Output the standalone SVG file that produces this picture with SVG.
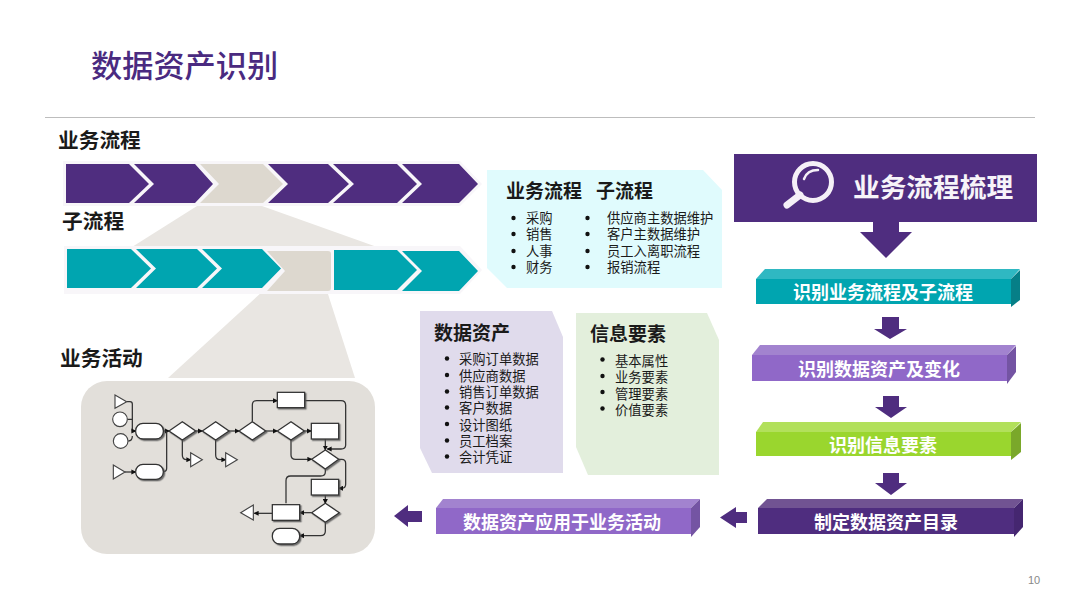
<svg xmlns="http://www.w3.org/2000/svg" width="1080" height="608" viewBox="0 0 1080 608">
<style>
text{font-family:"Noto Sans CJK SC","Noto Sans",sans-serif;fill:#1a1a1a}
.title{font-size:31.2px;font-weight:500;fill:#4a2a80}
.lab{font-size:20.7px;font-weight:700}
.head{font-size:19px;font-weight:700}
.li{font-size:13.3px;font-weight:400}
.btn{font-size:18px;font-weight:700;fill:#fff;text-anchor:middle}
.pur{fill:#4f2d7f}.teal{fill:#00a5b0}.beige{fill:#ddd8cf}.funnel{fill:#e9e6e2}.halo{fill:#f8f6f9}
.dot{fill:#111}
.fn{fill:#fff;stroke:#333;stroke-width:3.8;filter:url(#sh)}
.ft{fill:#fff;stroke:#444;stroke-width:3.4}
.cn{fill:none;stroke:#333;stroke-width:3.8;stroke-linejoin:round}
.ca{marker-end:url(#ah)}
</style>
<defs>
<filter id="sh" x="-20%" y="-20%" width="150%" height="150%"><feDropShadow dx="4" dy="4" stdDeviation="2" flood-color="#555" flood-opacity="0.8"/></filter>
<marker id="ah" markerWidth="4" markerHeight="4" refX="3.4" refY="2" orient="auto" markerUnits="strokeWidth"><path d="M0,0L4,2L0,4Z" fill="#111"/></marker>
</defs>
<rect width="1080" height="608" fill="#fff"/>
<text class="title" x="91" y="77">数据资产识别</text>
<line x1="45" y1="117.5" x2="1035" y2="117.5" stroke="#bdbdbd" stroke-width="1"/>
<text class="lab" x="58" y="148">业务流程</text>
<text class="lab" x="62" y="229">子流程</text>
<text class="lab" x="60" y="366">业务活动</text>

<g id="funnels">
<polygon class="funnel" points="197,206 262,206 377,247 132,247"/>
<polygon class="funnel" points="263,291 327,291 355,378 168,378"/>
</g>

<g id="process-row">
<polygon class="halo" points="63,161 460,161 482,184 460,206 63,206"/>
<polygon class="pur" points="66,164 129,164 149,184 129,203 66,203"/>
<polygon class="pur" points="134,164 195,164 213,184 195,203 134,203 154,184"/>
<polygon class="beige" points="200,164 263,164 283,184 263,203 200,203 219,184"/>
<polygon class="pur" points="268,164 328,164 349,184 328,203 268,203 288,184"/>
<polygon class="pur" points="333,164 397,164 417,184 397,203 333,203 354,184"/>
<polygon class="pur" points="402,164 459,164 478,184 459,203 402,203 422,184"/>
</g>
<g id="subprocess-row">
<polygon class="halo" points="64,246 460,246 482,270 460,294 64,294"/>
<polygon class="teal" points="67,249 131,249 151,268.500 131,288 67,288"/>
<polygon class="teal" points="136,249 197,249 217,268.500 197,288 136,288 156,268.500"/>
<polygon class="teal" points="202,249 262,249 281,268.500 262,288 202,288 222,268.500"/>
<path class="beige" d="M267,251H328Q331,251 331,254V288Q331,291 328,291H267L285,271Z"/>
<polygon class="teal" points="334,250 397,250 417,270 397,290 334,290"/>
<polygon class="teal" points="402,251 459,251 478,271 459,291 402,291 422,271"/>
</g>

<g id="activity-panel">
<rect x="81" y="381" width="294" height="173" rx="26" fill="#e2dfda"/>
</g>
<g id="flowchart" transform="translate(70 370) scale(0.33333)">
<g id="flow-connectors">
<path class="cn ca" d="M170,95H180Q187,95 187,102V183H197"/>
<path class="cn" d="M172,148H187M175,213Q187,213 187,198"/>
<path class="cn ca" d="M165,306H197"/>
<path class="cn ca" d="M280,183H297"/>
<path class="cn" d="M280,305Q290,305 290,295V183"/>
<path class="cn ca" d="M377,183H397"/>
<path class="cn ca" d="M477,183H507"/>
<path class="cn ca" d="M587,183H622"/>
<path class="cn ca" d="M703,183H724"/>
<path class="cn ca" d="M547,155V105Q547,92 560,92H622"/>
<path class="cn ca" d="M704,92H813Q827,92 827,106V225Q827,237 813,237H772"/>
<path class="cn ca" d="M766,207V240"/>
<path class="cn ca" d="M663,210V255Q663,268 677,268H725"/>
<path class="cn ca" d="M806,268H815Q827,268 827,280V343Q827,355 815,355H806"/>
<path class="cn" d="M766,297V306Q766,318 752,318H662Q648,318 648,332V400"/>
<path class="cn ca" d="M766,375V400"/>
<path class="cn ca" d="M725,428H689"/>
<path class="cn ca" d="M607,430H553"/>
<path class="cn ca" d="M766,457V484Q766,497 752,497H689"/>
<path class="cn ca" d="M337,210V255Q337,269 350,269H362"/>
<path class="cn ca" d="M437,210V255Q437,269 450,269H467"/>
</g>
<g id="t1"><polygon class="ft" points="135,75 135,115 170,95"/></g>
<g id="c1"><circle class="ft" cx="150" cy="148" r="22"/></g>
<g id="c2"><circle class="ft" cx="152" cy="213" r="22"/></g>
<g id="t2"><polygon class="ft" points="130,285 130,327 165,306"/></g>
<g id="t3"><polygon class="ft" points="362,248 362,290 397,269"/></g>
<g id="t4"><polygon class="ft" points="467,248 467,290 502,269"/></g>
<g id="t5"><polygon class="ft" points="550,405 550,450 512,428"/></g>
<g id="r1"><rect class="fn" x="197" y="160" width="83" height="47" rx="22"/></g>
<g id="r2"><rect class="fn" x="197" y="283" width="83" height="45" rx="22"/></g>
<g id="r3"><rect class="fn" x="607" y="475" width="82" height="47" rx="22"/></g>
<g id="d1"><polygon class="fn" points="297,183 337,155 377,183 337,210"/></g>
<g id="d2"><polygon class="fn" points="397,183 437,155 477,183 437,210"/></g>
<g id="d3"><polygon class="fn" points="507,183 547,155 587,183 547,210"/></g>
<g id="d4"><polygon class="fn" points="622,183 663,155 703,183 663,210"/></g>
<g id="d5"><polygon class="fn" points="725,268 766,240 806,268 766,297"/></g>
<g id="d6"><polygon class="fn" points="725,428 766,400 808,428 766,457"/></g>
<g id="a1"><rect class="fn" x="622" y="67" width="82" height="46"/></g>
<g id="a2"><rect class="fn" x="724" y="160" width="82" height="47"/></g>
<g id="a3"><rect class="fn" x="724" y="328" width="82" height="47"/></g>
<g id="a4"><rect class="fn" x="607" y="404" width="82" height="47"/></g>
</g>

<g id="panel-process">
<polygon points="487,170 703,170 722,190 722,288 507,288 487,268" fill="#e0fbfd"/>
<text class="head" x="506" y="198">业务流程</text><text class="head" x="596" y="198">子流程</text>
<g class="dot"><circle cx="513.500" cy="218" r="2.200"/><circle cx="513.500" cy="234" r="2.200"/><circle cx="513.500" cy="251" r="2.200"/><circle cx="513.500" cy="267" r="2.200"/><circle cx="587.500" cy="218" r="2.200"/><circle cx="587.500" cy="234" r="2.200"/><circle cx="587.500" cy="251" r="2.200"/><circle cx="587.500" cy="267" r="2.200"/></g>
<text class="li" x="526" y="223">采购</text><text class="li" x="526" y="239">销售</text><text class="li" x="526" y="256">人事</text><text class="li" x="526" y="272">财务</text>
<text class="li" x="607" y="223">供应商主数据维护</text><text class="li" x="607" y="239">客户主数据维护</text><text class="li" x="607" y="256">员工入离职流程</text><text class="li" x="607" y="272">报销流程</text>
</g>
<g id="panel-assets">
<polygon points="420,311 552,311 563,337 563,473 432,473 420,448" fill="#e0dbec"/>
<text class="head" x="434" y="340">数据资产</text>
<g class="dot"><circle cx="447" cy="358.500" r="2.200"/><circle cx="447" cy="375" r="2.200"/><circle cx="447" cy="391.500" r="2.200"/><circle cx="447" cy="407.500" r="2.200"/><circle cx="447" cy="424" r="2.200"/><circle cx="447" cy="440.500" r="2.200"/><circle cx="447" cy="456.500" r="2.200"/></g>
<text class="li" x="459" y="364">采购订单数据</text><text class="li" x="459" y="380.500">供应商数据</text><text class="li" x="459" y="397">销售订单数据</text><text class="li" x="459" y="413">客户数据</text><text class="li" x="459" y="429.500">设计图纸</text><text class="li" x="459" y="446">员工档案</text><text class="li" x="459" y="462">会计凭证</text>
</g>
<g id="panel-elements">
<polygon points="576,313 707,313 719,340 719,475 588,475 576,447" fill="#e3efdc"/>
<text class="head" x="590" y="341">信息要素</text>
<g class="dot"><circle cx="602.500" cy="359.500" r="2.200"/><circle cx="602.500" cy="376" r="2.200"/><circle cx="602.500" cy="392" r="2.200"/><circle cx="602.500" cy="408.500" r="2.200"/></g>
<text class="li" x="615" y="365.500">基本属性</text><text class="li" x="615" y="382">业务要素</text><text class="li" x="615" y="398.500">管理要素</text><text class="li" x="615" y="415">价值要素</text>
</g>

<g id="header">
<rect x="734" y="154" width="303" height="68" class="pur"/>
<circle cx="813" cy="182" r="18.500" fill="none" stroke="#f5f0f7" stroke-width="5"/>
<path d="M804,179Q807,170 818,170" fill="none" stroke="#f5f0f7" stroke-width="2.500" stroke-linecap="round"/>
<line x1="800" y1="195" x2="787" y2="205" stroke="#f5f0f7" stroke-width="7" stroke-linecap="round"/>
<text x="853" y="197" font-size="26.700" font-weight="700" style="fill:#f7f4f9">业务流程梳理</text>
</g>

<g id="connectors">
<polygon class="pur" points="873,222 899,222 899,232 912,232 886,258 860,232 873,232"/>
<polygon class="pur" points="882,317 899,317 899,329 907,329 890,339 874,329 882,329"/>
<polygon class="pur" points="883,396 899,396 899,407 907,407 891,418 875,407 883,407"/>
<polygon class="pur" points="883,473 899,473 899,483 907,483 891,495 875,483 883,483"/>
<polygon class="pur" points="747,512 736,512 736,507 720,517.500 736,528 736,523 747,523"/>
<polygon class="pur" points="422,511 408,511 408,505 394,516 408,527 408,522 422,522"/>
</g>

<g id="step1">
<polygon points="756,279 765,269 1020,269 1011,279" fill="#2fb8c2"/>
<polygon points="1011,279 1020,270 1020,300 1011,307" fill="#067f87"/>
<rect x="756" y="279" width="255" height="25" fill="#00a5b0"/>
<text class="btn" x="883" y="299">识别业务流程及子流程</text>
</g>
<g id="step2">
<polygon points="752,355 760,345 1016,345 1007,355" fill="#a283cf"/>
<polygon points="1007,355 1016,346 1016,372 1007,384" fill="#7454a3"/>
<rect x="752" y="355" width="255" height="26" fill="#9068c8"/>
<text class="btn" x="879" y="376">识别数据资产及变化</text>
</g>
<g id="step3">
<polygon points="756,432 763,422 1021,422 1011,432" fill="#b2e05b"/>
<polygon points="1011,432 1021,423 1021,452 1011,460" fill="#7aa82a"/>
<rect x="756" y="432" width="255" height="24" fill="#9ad62e"/>
<text class="btn" x="883" y="452">识别信息要素</text>
</g>
<g id="step4">
<polygon points="758,508 767,499 1023,499 1014,508" fill="#715392"/>
<polygon points="1014,508 1023,499 1023,527 1014,537" fill="#452670"/>
<rect x="758" y="508" width="256" height="26" class="pur"/>
<text class="btn" x="886" y="529">制定数据资产目录</text>
</g>
<g id="step5">
<polygon points="436,508 443,499 700,499 691,508" fill="#a283cf"/>
<polygon points="691,508 700,499 700,527 691,537" fill="#7454a3"/>
<rect x="436" y="508" width="255" height="26" fill="#9068c8"/>
<text class="btn" x="562" y="529">数据资产应用于业务活动</text>
</g>
<text x="1028" y="584" font-size="11" style="fill:#888;font-family:'Liberation Sans',sans-serif">10</text>
</svg>
